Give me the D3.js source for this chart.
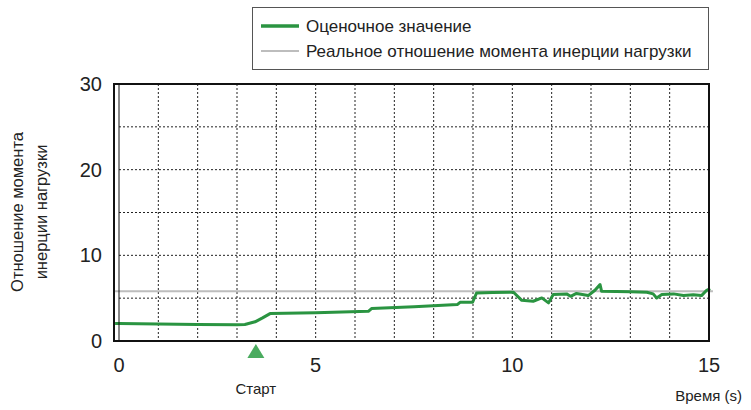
<!DOCTYPE html>
<html>
<head>
<meta charset="utf-8">
<script src="https://cdn.jsdelivr.net/npm/d3@7"></script>
<style>
  body { margin: 0; background: #fff; }
  svg { display: block; font-family: "Liberation Sans", Arial, sans-serif; }
</style>
</head>
<body>
<svg width="751" height="410"></svg>
<script>
// time axis (s) and the estimated inertia ratio
const timeS = [-0.1, 0, 1, 2, 3.0, 3.2, 3.46, 3.65, 3.84, 5, 6.34, 6.42, 7.5, 8.6, 8.67, 8.99, 9.09,
  9.5, 10.03, 10.24, 10.53, 10.75, 10.92, 11.04, 11.38, 11.48, 11.63, 11.93, 12.1, 12.23, 12.27,
  13.0, 13.42, 13.58, 13.67, 13.8, 14.1, 14.35, 14.6, 14.81, 14.94, 15.03];
const estimate = [2.05, 2.05, 1.99, 1.94, 1.89, 1.93, 2.24, 2.7, 3.2, 3.3, 3.47, 3.79, 4.0, 4.25, 4.52, 4.52, 5.6,
  5.65, 5.69, 4.75, 4.64, 5.03, 4.45, 5.42, 5.5, 5.22, 5.55, 5.3, 5.92, 6.58, 5.8,
  5.75, 5.69, 5.5, 5.03, 5.42, 5.5, 5.3, 5.4, 5.3, 5.92, 6.1];

// real load inertia ratio (constant)
const realTime = [-0.1, 15.1];
const realRatio = [5.8, 5.8];

const xTicks = [0, 5, 10, 15];
const yTicks = [0, 10, 20, 30];
const startTime = 3.48;

const legendLabels = ["Оценочное значение", "Реальное отношение момента инерции нагрузки"];
const yTitle = ["Отношение момента", "инерции нагрузки"];
const xTitle = "Время (s)";
const startLabel = "Старт";

const green = "#2a9441";
const grey = "#bdbdbd";

const svg = d3.select("svg");

const x = d3.scaleLinear().domain([0, 15]).range([119, 709]);
const y = d3.scaleLinear().domain([0, 30]).range([341, 84]);

// dotted grid
const grid = svg.append("g");
grid.selectAll("line.v")
  .data(d3.range(1, 15))
  .enter()
  .append("line")
  .attr("class", "v")
  .attr("x1", d => x(d)).attr("x2", d => x(d))
  .attr("y1", y(30)).attr("y2", y(0))
  .attr("stroke", "#222")
  .attr("stroke-width", 1)
  .attr("stroke-dasharray", "2,2");

grid.selectAll("line.h")
  .data(d3.range(5, 30, 5))
  .enter()
  .append("line")
  .attr("class", "h")
  .attr("x1", x(0)).attr("x2", x(15))
  .attr("y1", d => y(d)).attr("y2", d => y(d))
  .attr("stroke", "#222")
  .attr("stroke-width", 1)
  .attr("stroke-dasharray", "2,2");

// series lines
const line = d3.line()
  .x(d => x(d[0]))
  .y(d => y(d[1]));

svg.append("path")
  .datum(d3.zip(realTime, realRatio))
  .attr("d", line)
  .attr("fill", "none")
  .attr("stroke", grey)
  .attr("stroke-width", 2);

svg.append("path")
  .datum(d3.zip(timeS, estimate))
  .attr("d", line)
  .attr("fill", "none")
  .attr("stroke", green)
  .attr("stroke-width", 3)
  .attr("stroke-linejoin", "round");

// frame and y axis line
svg.append("rect")
  .attr("x", x(0) - 5).attr("y", y(30))
  .attr("width", x(15) - x(0) + 5).attr("height", y(0) - y(30))
  .attr("fill", "none")
  .attr("stroke", "#111")
  .attr("stroke-width", 2);

svg.append("line")
  .attr("x1", x(0)).attr("x2", x(0))
  .attr("y1", y(30)).attr("y2", y(0))
  .attr("stroke", "#111")
  .attr("stroke-width", 1);

// tick labels
svg.append("g")
  .selectAll("text")
  .data(xTicks)
  .enter()
  .append("text")
  .attr("x", d => x(d))
  .attr("y", 372)
  .attr("text-anchor", "middle")
  .style("font-size", "20px")
  .style("fill", "#222")
  .text(d => d);

svg.append("g")
  .selectAll("text")
  .data(yTicks)
  .enter()
  .append("text")
  .attr("x", 102)
  .attr("y", d => y(d) + 7)
  .attr("text-anchor", "end")
  .style("font-size", "20px")
  .style("fill", "#222")
  .text(d => d);

// axis titles
svg.append("text")
  .attr("transform", "translate(23,212) rotate(-90)")
  .attr("text-anchor", "middle")
  .style("font-size", "16.5px")
  .style("fill", "#222")
  .selectAll("tspan")
  .data(yTitle)
  .enter()
  .append("tspan")
  .attr("x", 0)
  .attr("dy", (d, i) => i === 0 ? 0 : 24)
  .text(d => d);

svg.append("text")
  .attr("x", 742)
  .attr("y", 401)
  .attr("text-anchor", "end")
  .style("font-size", "15px")
  .style("fill", "#222")
  .text(xTitle);

// start marker
const sx = x(startTime);
svg.append("path")
  .attr("d", `M${sx},344 L${sx + 8.5},358 L${sx - 8.5},358 Z`)
  .attr("fill", "#4aab5f");

svg.append("text")
  .attr("x", sx)
  .attr("y", 394)
  .attr("text-anchor", "middle")
  .style("font-size", "15px")
  .style("fill", "#222")
  .text(startLabel);

// legend
const legend = svg.append("g");
legend.append("rect")
  .attr("x", 252.5).attr("y", 7.5)
  .attr("width", 456).attr("height", 62)
  .attr("fill", "#fff")
  .attr("stroke", "#555")
  .attr("stroke-width", 1);

const legendColors = [green, grey];
const legendWidths = [3.5, 2];
legend.selectAll("line")
  .data(legendLabels)
  .enter()
  .append("line")
  .attr("x1", 261).attr("x2", 299)
  .attr("y1", (d, i) => 26 + i * 25)
  .attr("y2", (d, i) => 26 + i * 25)
  .attr("stroke", (d, i) => legendColors[i])
  .attr("stroke-width", (d, i) => legendWidths[i]);

legend.selectAll("text")
  .data(legendLabels)
  .enter()
  .append("text")
  .attr("x", 306)
  .attr("y", (d, i) => 32 + i * 25)
  .style("font-size", "17px")
  .style("fill", "#222")
  .text(d => d);
</script>
</body>
</html>
